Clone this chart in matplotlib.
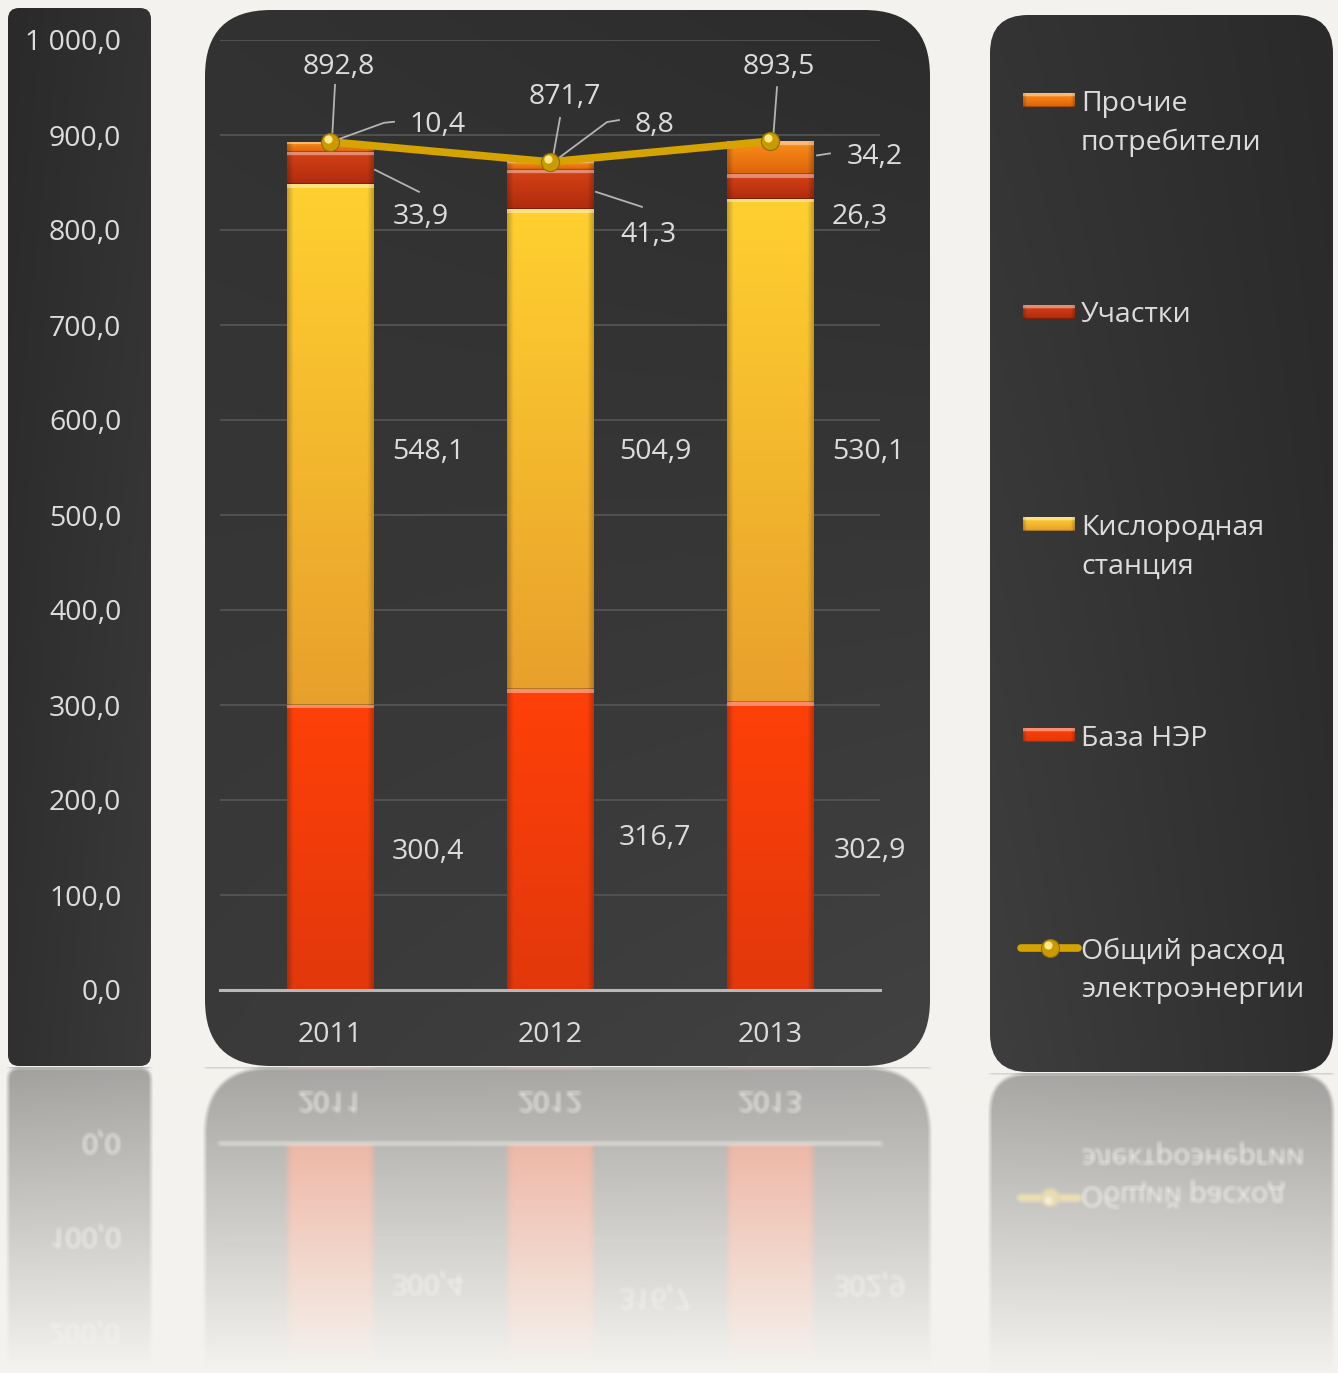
import numpy as np
import matplotlib
matplotlib.use("Agg")
from matplotlib import pyplot as plt
from matplotlib.patches import FancyBboxPatch
from matplotlib.colors import to_rgb
import matplotlib.transforms as mtransforms

plt.rcParams['font.family'] = ['Open Sans', 'DejaVu Sans']

# данные
years = ["2011", "2012", "2013"]
baza = [300.4, 316.7, 302.9]
kislorod = [548.1, 504.9, 530.1]
uchastki = [33.9, 41.3, 26.3]
prochie = [10.4, 8.8, 34.2]
total = [892.8, 871.7, 893.5]
yticks = [0, 100, 200, 300, 400, 500, 600, 700, 800, 900, 1000]
legend_labels = ["Прочие\nпотребители", "Участки", "Кислородная\nстанция", "База НЭР",
                 "Общий расход\nэлектроэнергии"]

BG = "#f3f2ee"
TXT = "#dcdcdc"
FS = 20.5
W, H = 1338, 1373

# цвета сегментов (верх, низ)
c_baza = ((255, 64, 8), (226, 56, 12))
c_kis = ((255, 208, 48), (232, 160, 44))
c_uch = ((214, 66, 22), (176, 44, 14))
c_pro = ((250, 142, 26), (222, 100, 10))


def fmt(v):
    return f"{v:.1f}".replace(".", ",")


def fmt_tick(v):
    return f"{v:,.1f}".replace(",", " ").replace(".", ",")


def seg_img(cols, h_px):
    top = np.array(cols[0]) / 255
    bot = np.array(cols[1]) / 255
    ny = max(int(round(h_px)), 3)
    nx = 60
    t = np.linspace(0, 1, ny)[:, None, None]
    a = top * (1 - t) + bot * t
    a = np.repeat(a, nx, axis=1)
    s = np.linspace(0, 1, nx)
    edge = np.minimum(s, 1 - s)
    f = 1 - 0.22 * np.clip(1 - edge / 0.07, 0, 1)
    a = a * f[None, :, None]
    hl = max(1, min(4, ny // 4))
    a[:hl] = a[:hl] * 0.6 + 0.4
    a[-1:] = a[-1:] * 0.75
    return np.clip(a, 0, 1)


def panel_grad(c_tl, c_tr, c_bl, c_br, n=64):
    u = np.linspace(0, 1, n)[None, :, None]
    v = np.linspace(0, 1, n)[:, None, None]
    tl, tr, bl, br = [np.array(c) / 255 for c in (c_tl, c_tr, c_bl, c_br)]
    top = tl * (1 - u) + tr * u
    bot = bl * (1 - u) + br * u
    return top * (1 - v) + bot * v


fig = plt.figure(figsize=(W / 100, H / 100), dpi=100)
fig.patch.set_facecolor(BG)

bg = fig.add_axes([0, 0, 1, 1])
bg.axis('off')


def panel(x0, y0, x1, y1, r, grad):
    p = FancyBboxPatch((x0, y0), x1 - x0, y1 - y0,
                       boxstyle=f"round,pad=0,rounding_size={r}",
                       lw=0, fc='none')
    bg.add_patch(p)
    im = bg.imshow(grad, extent=(x0, x1, y1, y0), aspect='auto',
                   interpolation='bilinear', zorder=1)
    im.set_clip_path(p)


panel(8, 8, 151, 1066, 11, panel_grad((42, 42, 42), (50, 50, 50), (48, 48, 48), (58, 58, 58)))
panel(205, 10, 930, 1066, 66, panel_grad((50, 50, 50), (44, 44, 44), (58, 58, 58), (66, 66, 66)))
panel(990, 15, 1333, 1072, 38, panel_grad((52, 52, 52), (42, 42, 42), (62, 62, 62), (46, 46, 46)))

# основной график
ax = fig.add_axes([220 / W, (H - 990) / H, 660 / W, 950 / H])
ax.patch.set_alpha(0)
x = np.arange(len(years))
bw = 0.395

bottoms = np.zeros(len(years))
for vals, cols in [(baza, c_baza), (kislorod, c_kis), (uchastki, c_uch), (prochie, c_pro)]:
    for i, v in enumerate(vals):
        ax.imshow(seg_img(cols, v * 0.95), extent=(x[i] - bw / 2, x[i] + bw / 2, bottoms[i], bottoms[i] + v),
                  aspect='auto', interpolation='bilinear', zorder=2)
    bottoms = bottoms + np.array(vals)

ax.plot(x, total, color='#d6a400', lw=5.5, zorder=4, solid_capstyle='round')
ax.scatter(x, total, s=170, color='#c99b00', edgecolor='#8f6c00', lw=0.8, zorder=5)
hl_tr = mtransforms.offset_copy(ax.transData, fig=fig, x=-2, y=3, units='dots')
ax.scatter(x, total, s=35, color='#ffe78a', lw=0, zorder=6, transform=hl_tr)

ax.set_xlim(-0.5, 2.5)
ax.set_ylim(0, 1000)
ax.set_yticks(yticks)
ax.set_yticklabels([fmt_tick(v) for v in yticks])
ax.set_xticks(x)
ax.set_xticklabels(years)
ax.tick_params(axis='y', length=0, pad=71, labelsize=FS, labelcolor=TXT)
ax.tick_params(axis='x', length=0, pad=22, labelsize=FS, labelcolor=TXT)
ax.yaxis.grid(True, color='#545454', lw=1.3)
ax.set_axisbelow(True)
for s in ['top', 'left', 'right']:
    ax.spines[s].set_visible(False)
ax.spines['bottom'].set_color('#b8b8b8')
ax.spines['bottom'].set_linewidth(2.2)


def px(anchor, dx, dy):
    d = ax.transData.transform(anchor)
    return ax.transData.inverted().transform((d[0] + dx, d[1] - dy))


# подписи: (якорь, смещение текста, точки выноски) - смещения в пикселях, y вниз
cum1 = np.array(baza)
cum2 = cum1 + np.array(kislorod)
cum3 = cum2 + np.array(uchastki)
labels = []
txt_off_baza = [(98, 5), (105, -2), (100, 5)]
txt_off_kis = [(98, 8), (105, 3), (98, 2)]
txt_off_uch = [(91, 49), (98, 45), (90, 31)]
lead_uch = [[(45, 2), (89, 24)], [(46, 2), (92, 17)], None]
txt_off_pro = [(108, -22), (105, -41), (105, 0)]
lead_pro = [[(7, -7), (54, -24), (64, -25)], [(10, -9), (57, -44), (69, -46)], [(47, -2), (60, -4)]]
txt_off_tot = [(9, -75), (15, -65), (9, -74)]
lead_tot = [[(5, -57), (2, -2)], [(10, -44), (3, -5)], [(7, -54), (3, -1)]]

for i in range(len(years)):
    labels.append(((x[i], baza[i] / 2), baza[i], txt_off_baza[i], None))
    labels.append(((x[i], cum1[i] + kislorod[i] / 2), kislorod[i], txt_off_kis[i], None))
    labels.append(((x[i], cum2[i] + uchastki[i] / 2), uchastki[i], txt_off_uch[i], lead_uch[i]))
    labels.append(((x[i], cum3[i] + prochie[i] / 2), prochie[i], txt_off_pro[i], lead_pro[i]))
    labels.append(((x[i], total[i]), total[i], txt_off_tot[i], lead_tot[i]))

for anchor, v, (dx, dy), lead in labels:
    ax.annotate(fmt(v), xy=anchor, xytext=(dx, -dy), textcoords='offset pixels',
                ha='center', va='center', fontsize=FS, color=TXT, zorder=7)
    if lead:
        pts = np.array([px(anchor, a, b) for a, b in lead])
        ax.plot(pts[:, 0], pts[:, 1], color='#b4b4b4', lw=1.3, zorder=3, clip_on=False)

# легенда
leg_y = [100, 312, 524, 735, 948]
leg_cols = [c_pro, c_uch, c_kis, c_baza]
for k, lab in enumerate(legend_labels):
    y0 = leg_y[k]
    if k < 4:
        bg.imshow(seg_img(leg_cols[k], 13), extent=(1023, 1075, y0 + 7, y0 - 7),
                  aspect='auto', interpolation='bilinear', zorder=3)
    else:
        bg.plot([1021, 1078], [y0, y0], color='#d6a400', lw=5.5, zorder=3, solid_capstyle='round')
        bg.scatter([1050], [y0], s=170, color='#c99b00', edgecolor='#8f6c00', lw=0.8, zorder=4)
        bg.scatter([1048], [y0 - 3], s=35, color='#ffe78a', lw=0, zorder=5)
    for j, line in enumerate(lab.split("\n")):
        bg.text(1081, y0 + 39 * j, line, ha='left', va='center_baseline', fontsize=FS, color=TXT, zorder=5)

bg.set_xlim(0, W)
bg.set_ylim(H, 0)

# отражение
fig.canvas.draw()
img = np.asarray(fig.canvas.buffer_rgba())[:, :, :3].astype(float) / 255
bgc = np.array(to_rgb(BG))


def blur(a, k=2):
    out = a.copy()
    for axis in (0, 1):
        acc = np.zeros_like(out)
        for s in range(-k, k + 1):
            acc += np.roll(out, s, axis=axis)
        out = acc / (2 * k + 1)
    return out


top_row = 1067
out = img[top_row:].copy()
for c0, c1, m in [(0, 965, 1067), (965, W, 1073)]:
    rows = np.arange(m, H)
    src = 2 * m - 1 - rows
    refl = blur(img[src, c0:c1])
    d = rows - m
    a = np.clip(0.42 * (1 - d / 300.0), 0, 1)[:, None, None]
    out[m - top_row:, c0:c1] = bgc * (1 - a) + refl * a

fig.figimage(out, xo=0, yo=0, origin='upper', zorder=10)

plt.savefig("out.png", dpi=100, facecolor=BG)
plt.close()
